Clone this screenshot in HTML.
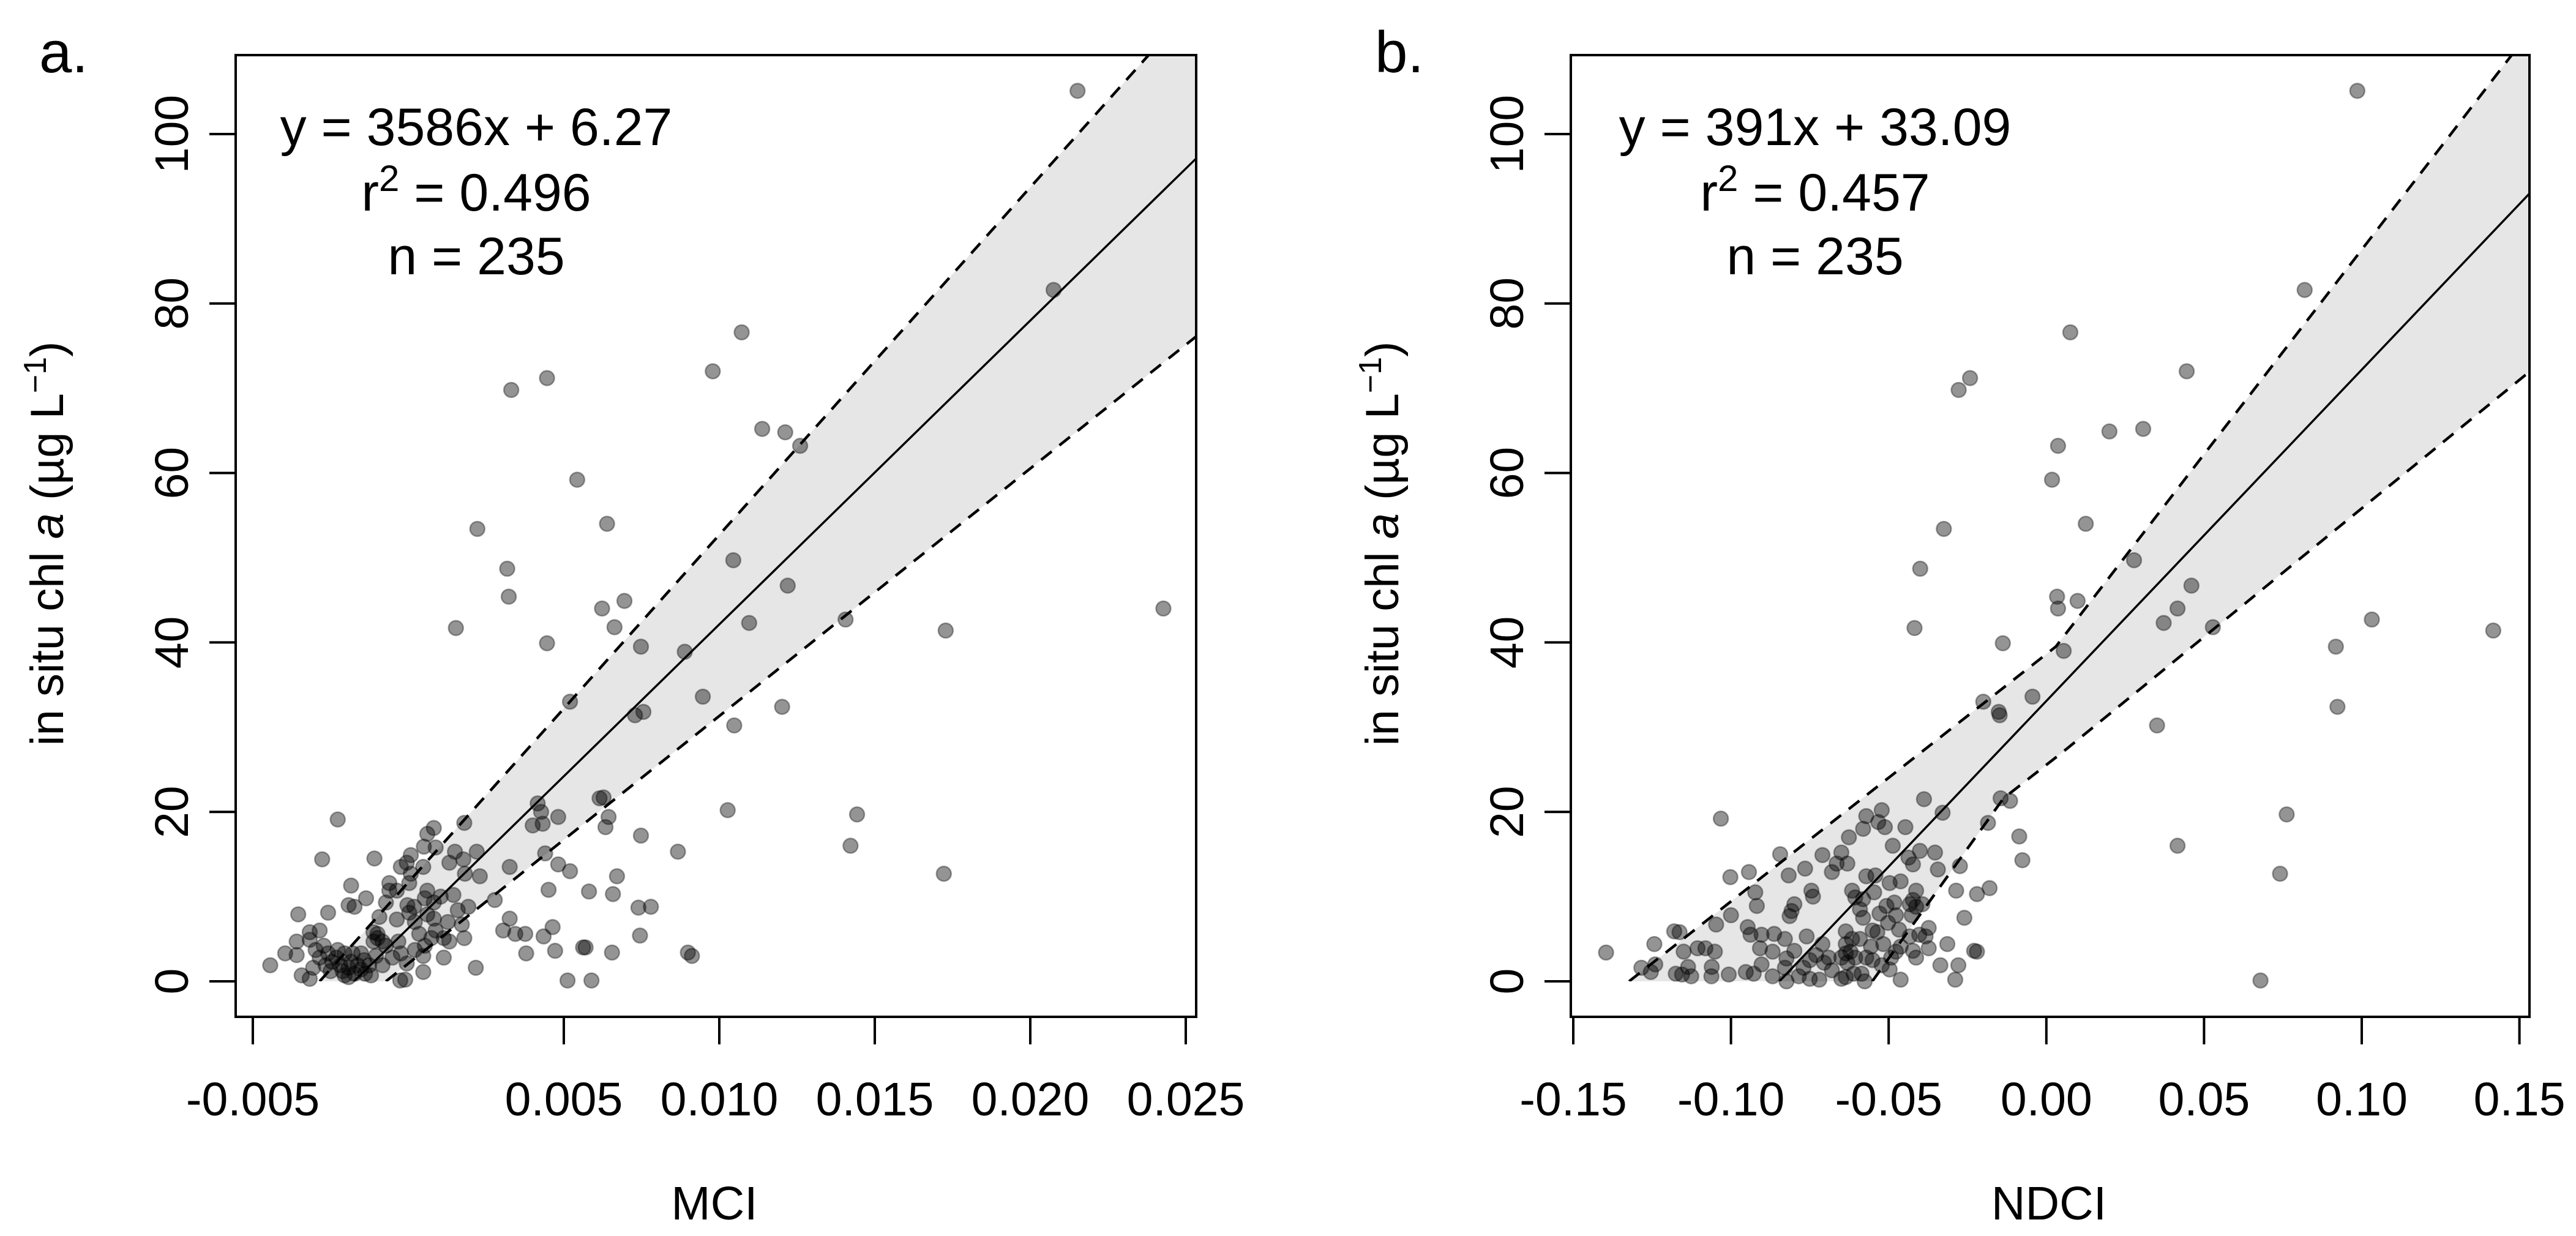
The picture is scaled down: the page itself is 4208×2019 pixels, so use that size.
<!DOCTYPE html>
<html><head><meta charset="utf-8"><style>
html,body{margin:0;padding:0;background:#fff;}
svg{display:block;font-family:"Liberation Sans",Arial,sans-serif;}
</style></head><body>
<svg id="chart" width="4208" height="2019" viewBox="0 0 4208 2019" xmlns="http://www.w3.org/2000/svg"></svg>
<script>
// ---------- Panel a data (MCI) ----------
const mciX = [0.02152,0.02075,0.01072,0.00979,0.00331,0.00446,0.01138,0.01212,0.0126,0.00543,0.00639,0.00222,0.00318,0.01045,0.00323,0.00623,0.00695,0.02428,0.0122,0.00663,0.00153,0.01096,0.01406,0.01728,0.00446,0.00748,0.00889,0.00947,0.0052,0.00729,0.00756,0.01202,0.01048,0.01027,0.01443,0.01422,0.01722,0.00867,0.00748,0.00899,0.00912,0.0078,0.0074,0.00745,0.00671,0.00658,0.00655,0.0057,0.00562,0.00581,0.00512,0.00589,0.00416,0.00427,0.00482,0.00432,0.004,0.00615,0.00628,0.00644,0.00634,0.0044,0.00482,0.0052,0.00451,0.00464,0.00435,0.00472,0.00379,0.00376,0.00344,0.00326,0.00305,0.00278,0.00326,0.00217,0.0023,0.0022,0.0018,0.00177,0.00182,0.00172,0.0018,0.00132,0.00193,0.00132,0.0015,0.00145,0.00082,0.00088,0.00061,0.0005,0.00048,0.00008,-0.00005,0.00008,0.00061,0.00053,0.00082,0.00104,0.00114,0.00053,0.00048,0.00021,-0.00005,-0.0001,-0.00026,-0.00037,-0.00003,0.00003,-0.00037,-0.00061,-0.00072,-0.00093,-0.00109,-0.00061,-0.00112,-0.00099,-0.00083,-0.00104,-0.00083,-0.0012,-0.00142,-0.00136,-0.00173,-0.00184,-0.00192,-0.00227,-0.00277,-0.00354,-0.00258,-0.00317,-0.00359,-0.00396,-0.00444,-0.00343,-0.00317,-0.00306,-0.00272,-0.00258,-0.00245,-0.00232,-0.00219,-0.00211,-0.00205,-0.00192,-0.00184,-0.00173,-0.00163,-0.00152,-0.00227,-0.00205,-0.00285,-0.00298,-0.00266,-0.0025,-0.00192,-0.00139,-0.00126,-0.00179,-0.00152,-0.00112,-0.00099,-0.00072,-0.00051,-0.00032,-0.00024,0.00021,0.00035,0.00074,0.00019,0.00061,0.00082,0.00048,0.00003,-0.00024,0.00088,0.00114,0.00127,0.00159,-0.00317,-0.00285,-0.00359];
const mciY = [105.1,81.6,76.6,72.0,69.8,71.2,65.2,64.8,63.2,59.2,54.0,53.4,48.7,49.7,45.4,44.0,44.9,44.0,46.7,41.8,41.7,42.3,42.7,41.4,39.9,39.5,38.9,33.6,33.0,31.4,31.8,32.4,30.2,20.2,19.7,16.0,12.7,15.3,17.2,3.4,3.0,8.8,8.7,5.4,12.4,10.3,3.4,4.0,4.0,10.6,0.1,0.1,21.0,20.0,19.4,18.6,18.4,21.6,21.7,19.4,18.2,15.1,13.8,13.0,10.8,6.4,5.3,3.6,3.3,5.6,5.6,7.4,6.0,9.6,13.5,1.6,12.4,15.3,18.7,14.4,12.7,6.7,5.1,4.7,8.8,14.0,15.3,10.2,18.1,15.8,17.4,15.9,13.5,14.9,14.0,12.7,10.7,9.8,7.4,10.0,5.1,4.2,1.1,3.7,2.1,0.2,0.1,7.3,9.0,8.1,10.7,10.7,9.3,7.6,14.5,11.6,5.8,5.1,4.7,3.0,1.9,0.7,2.5,9.8,8.8,11.3,9.0,19.1,14.4,7.9,8.1,5.8,3.1,3.3,1.9,0.7,0.3,1.6,4.2,3.3,2.3,2.8,1.9,1.2,0.7,1.6,2.3,0.9,1.9,1.4,3.7,3.3,2.8,3.7,1.9,1.2,0.5,0.9,1.9,3.3,3.3,4.7,5.6,4.2,2.8,4.7,3.3,7.0,5.6,5.1,8.8,7.9,9.3,3.0,11.6,13.5,6.0,2.8,7.0,8.4,4.9,6.0,4.7];
const mciFit = [3586, 6.27];            // slope, intercept
const mciBandUpX = [-0.00285, 0.0238];  const mciBandUpY = [0, 109.3];
const mciBandLoX = [-0.00072, 0.0254];  const mciBandLoY = [0, 76.3];
const mciTicks = [-0.005, 0.005, 0.010, 0.015, 0.020, 0.025];
const mciTickLabels = ["-0.005","0.005","0.010","0.015","0.020","0.025"];

// ---------- Panel b data (NDCI) ----------
const ndciX = [0.0986,0.0819,0.0076,0.0445,-0.0278,-0.0242,0.020,0.0307,0.0037,0.0018,0.0125,-0.0325,-0.04,0.0278,0.0034,0.0099,0.0037,0.0416,0.046,-0.0418,0.0372,0.0528,0.1032,0.1417,-0.0138,0.0055,0.0918,-0.0044,-0.02,-0.0151,-0.0148,0.0923,0.0351,0.0416,0.0762,0.0741,0.0679,-0.1032,-0.1396,-0.1243,-0.1284,-0.124,-0.1254,-0.118,-0.1163,-0.115,-0.1106,-0.1081,-0.1051,-0.1136,-0.1175,-0.1155,-0.1126,-0.1061,-0.1062,-0.1007,-0.1047,-0.1002,-0.1,-0.0943,-0.0923,-0.0918,-0.0947,-0.0938,-0.0903,-0.0908,-0.0903,-0.0953,-0.0928,-0.0868,-0.0868,-0.0863,-0.0829,-0.0844,-0.0817,-0.0765,-0.0808,-0.0814,-0.0799,-0.0745,-0.074,-0.076,-0.0824,-0.0799,-0.0829,-0.0824,-0.077,-0.075,-0.073,-0.071,-0.0705,-0.069,-0.068,-0.072,-0.075,-0.0785,-0.071,-0.068,-0.065,-0.0631,-0.0665,-0.0626,-0.0581,-0.0571,-0.0522,-0.0533,-0.0512,-0.0447,-0.0487,-0.0401,-0.0353,-0.0437,-0.0423,-0.0344,-0.0274,-0.0286,-0.022,-0.018,-0.026,-0.0314,-0.0229,-0.0336,-0.0279,-0.0289,-0.0462,-0.0373,-0.0373,-0.0413,-0.0423,-0.0403,-0.0433,-0.0383,-0.0423,-0.0413,-0.0433,-0.0393,-0.0413,-0.0427,-0.0462,-0.0497,-0.0482,-0.0507,-0.0477,-0.0502,-0.0467,-0.0529,-0.0581,-0.0591,-0.0546,-0.0571,-0.0542,-0.0616,-0.0606,-0.0581,-0.0551,-0.0536,-0.0517,-0.0556,-0.0591,-0.0636,-0.0616,-0.0636,-0.0621,-0.0606,-0.0636,-0.065,-0.0631,-0.0571,-0.0551,-0.0522,-0.0497,-0.0492,-0.0477,-0.0462,-0.0611,-0.0586,-0.065,-0.0636,-0.0576,-0.0388,-0.0329,-0.0145,-0.0115,-0.0185,-0.0086,-0.0076,-0.022];
const ndciY = [105.1,81.6,76.6,72.0,69.8,71.2,64.9,65.2,63.2,59.2,54.0,53.4,48.7,49.7,45.4,44.9,44.0,44.0,46.7,41.7,42.3,41.8,42.7,41.4,39.9,39.0,39.5,33.6,33.0,31.8,31.4,32.4,30.2,16.0,19.7,12.7,0.1,19.2,3.4,4.4,1.6,2.0,1.1,5.9,5.8,3.5,3.9,3.9,3.5,1.7,0.9,0.8,0.6,1.7,0.6,0.8,6.7,12.3,7.8,12.9,10.5,8.9,6.4,5.5,5.5,3.9,2.0,1.1,0.9,0.6,3.5,5.6,5.0,15.0,12.5,13.3,8.3,7.7,9.1,10.7,10.0,5.3,2.7,3.6,1.6,0.0,1.6,2.5,3.1,4.4,2.2,2.8,1.3,0.2,0.3,0.6,14.9,12.9,15.2,13.9,13.9,17.0,18.0,19.5,20.2,18.8,18.2,18.2,16.0,15.4,15.2,14.6,13.8,13.2,13.6,10.7,10.3,11.0,7.5,4.4,3.6,1.9,1.9,0.2,0.2,6.3,3.9,2.8,3.6,5.5,5.3,5.3,9.6,8.8,9.1,9.1,10.7,7.8,11.8,11.6,9.3,8.9,7.8,6.9,6.1,8.0,7.5,8.5,10.5,12.4,12.5,10.7,9.9,9.7,6.0,5.8,4.4,4.1,5.0,5.9,5.0,4.4,3.5,2.8,3.3,2.8,2.2,2.8,2.5,1.9,1.4,2.8,3.5,4.1,0.9,0.9,0.3,0.5,0.0,21.5,19.9,21.6,21.3,18.7,17.1,14.3,3.5];
const ndciFit = [391, 33.09];
const ndciBandUpX = [-0.1323, 0.003, 0.1475]; const ndciBandUpY = [0, 39.5, 109.3];
const ndciBandLoX = [-0.0552, -0.0136, 0.005, 0.153]; const ndciBandLoY = [0, 21.6, 27.0, 71.9];
const ndciTicks = [-0.15, -0.10, -0.05, 0.00, 0.05, 0.10, 0.15];
const ndciTickLabels = ["-0.15","-0.10","-0.05","0.00","0.05","0.10","0.15"];

const yTicks = [0, 20, 40, 60, 80, 100];

const NS = "http://www.w3.org/2000/svg";
const svg = document.getElementById("chart");
function mk(tag, attrs, parent) {
  const e = document.createElementNS(NS, tag);
  for (const k in attrs) e.setAttribute(k, attrs[k]);
  (parent || svg).appendChild(e);
  return e;
}

function panel(cfg) {
  const g = mk("g", {});
  
  
  const L = cfg.left, R = cfg.right, T = 90, B = 1661;
  const sx = v => cfg.x0px + (v - cfg.x0) * cfg.pxPer;
  const sy = v => 1603 - v * 13.84;
  const cid = cfg.id + "-clip";
  const defs = mk("defs", {}, g);
  const cp = mk("clipPath", { id: cid }, defs);
  mk("rect", { x: L, y: T, width: R - L, height: sy(0) - T }, cp);
  const up = cfg.upX.map((x, i) => [x, cfg.upY[i]]);
  const lo = cfg.loX.map((x, i) => [x, cfg.loY[i]]);
  const xMax = cfg.xMax;
  const ext = (pts) => {
    const n = pts.length, a = pts[n - 2], b = pts[n - 1];
    const s = (b[1] - a[1]) / (b[0] - a[0]);
    return pts.concat([[xMax, b[1] + s * (xMax - b[0])]]);
  };
  const upE = ext(up), loE = ext(lo);
  const poly = upE.concat(loE.slice().reverse()).map(p => sx(p[0]) + "," + sy(p[1])).join(" ");
  const band = mk("polygon", { points: poly, fill: "#e6e6e6", stroke: "none", "clip-path": "url(#" + cid + ")" }, g);
  
  
  const upL = mk("polyline", { points: upE.map(p => sx(p[0]) + "," + sy(p[1])).join(" "), fill: "none", stroke: "#000", "stroke-width": 4.5, "stroke-dasharray": "22 16", "clip-path": "url(#" + cid + ")" }, g);
  
  
  const loL = mk("polyline", { points: loE.map(p => sx(p[0]) + "," + sy(p[1])).join(" "), fill: "none", stroke: "#000", "stroke-width": 4.5, "stroke-dasharray": "22 16", "clip-path": "url(#" + cid + ")" }, g);
  
  
  const fx0 = -cfg.fit[1] / cfg.fit[0];
  const fit = mk("line", { x1: sx(fx0), y1: sy(0), x2: sx(xMax), y2: sy(cfg.fit[0] * xMax + cfg.fit[1]), stroke: "#000", "stroke-width": 3.5, "clip-path": "url(#" + cid + ")" }, g);
  
  
  const pg = mk("g", {}, g);
  
  
  cfg.xs.forEach((x, i) => {
    const c = mk("circle", { cx: sx(x), cy: sy(cfg.ys[i]), r: 12, fill: "rgba(0,0,0,0.42)", stroke: "rgba(0,0,0,0.35)", "stroke-width": 2.5 }, pg);
    
    
  });
  const box = mk("rect", { x: L, y: T, width: R - L, height: B - T, fill: "none", stroke: "#000", "stroke-width": 4 }, g);
  
  
  cfg.ticks.forEach((t, i) => {
    const X = sx(t);
    const tk = mk("line", { x1: X, y1: B, x2: X, y2: B + 45, stroke: "#000", "stroke-width": 4 }, g);
    
    
    const tl = mk("text", { x: X, y: 1822, "text-anchor": "middle", "font-size": 77 }, g);
    tl.textContent = cfg.tickLabels[i];
    
    
  });
  yTicks.forEach(t => {
    const Y = sy(t);
    const tk = mk("line", { x1: L - 43, y1: Y, x2: L, y2: Y, stroke: "#000", "stroke-width": 4 }, g);
    
    
    const tx = L - 105;
    const tl = mk("text", { x: tx, y: Y, "text-anchor": "middle", "font-size": 77, transform: "rotate(-90 " + tx + " " + Y + ")", dy: 27 }, g);
    tl.textContent = String(t);
    
    
  });
  const ytx = L - 308, yty = 888;
  const yt = mk("text", { x: ytx, y: yty, "text-anchor": "middle", "font-size": 76, transform: "rotate(-90 " + ytx + " " + yty + ")", dy: 26 }, g);
  yt.innerHTML = 'in situ chl <tspan font-style="italic">a</tspan> (µg L<tspan dy="-28" font-size="52">−1</tspan><tspan dy="28">)</tspan>';
  
  
  const xt = mk("text", { x: cfg.xTitleX, y: 1992, "text-anchor": "middle", "font-size": 77 }, g);
  xt.textContent = cfg.xTitle;
  
  
  const pl = mk("text", { x: cfg.letterX, y: 118, "text-anchor": "middle", "font-size": 96 }, g);
  pl.textContent = cfg.letter;
  
  
  const eqLines = cfg.eq;
  const e1 = mk("text", { x: cfg.eqX, y: 237, "text-anchor": "middle", "font-size": 86 }, g);
  e1.textContent = eqLines[0];
  
  
  const e2 = mk("text", { x: cfg.eqX, y: 344, "text-anchor": "middle", "font-size": 86 }, g);
  e2.innerHTML = 'r<tspan dy="-32" font-size="60">2</tspan><tspan dy="32"> = ' + eqLines[1] + '</tspan>';
  
  
  const e3 = mk("text", { x: cfg.eqX, y: 448, "text-anchor": "middle", "font-size": 86 }, g);
  e3.textContent = eqLines[2];
  
  
}

panel({ id: "mci", left: 385, right: 1954, x0: -0.005, x0px: 413, pxPer: 254 / 0.005, xMax: 0.02534,
  xs: mciX, ys: mciY, fit: mciFit, upX: mciBandUpX, upY: mciBandUpY, loX: mciBandLoX, loY: mciBandLoY,
  ticks: mciTicks, tickLabels: mciTickLabels, xTitle: "MCI", xTitleX: 1167, letter: "a.", letterX: 104,
  eqX: 778, eq: ["y = 3586x + 6.27", "0.496", "n = 235"] });
panel({ id: "ndci", left: 2566, right: 4132, x0: -0.15, x0px: 2570, pxPer: 257.6 / 0.05, xMax: 0.1531,
  xs: ndciX, ys: ndciY, fit: ndciFit, upX: ndciBandUpX, upY: ndciBandUpY, loX: ndciBandLoX, loY: ndciBandLoY,
  ticks: ndciTicks, tickLabels: ndciTickLabels, xTitle: "NDCI", xTitleX: 3347, letter: "b.", letterX: 2286,
  eqX: 2965, eq: ["y = 391x + 33.09", "0.457", "n = 235"] });
</script>
</body></html>
